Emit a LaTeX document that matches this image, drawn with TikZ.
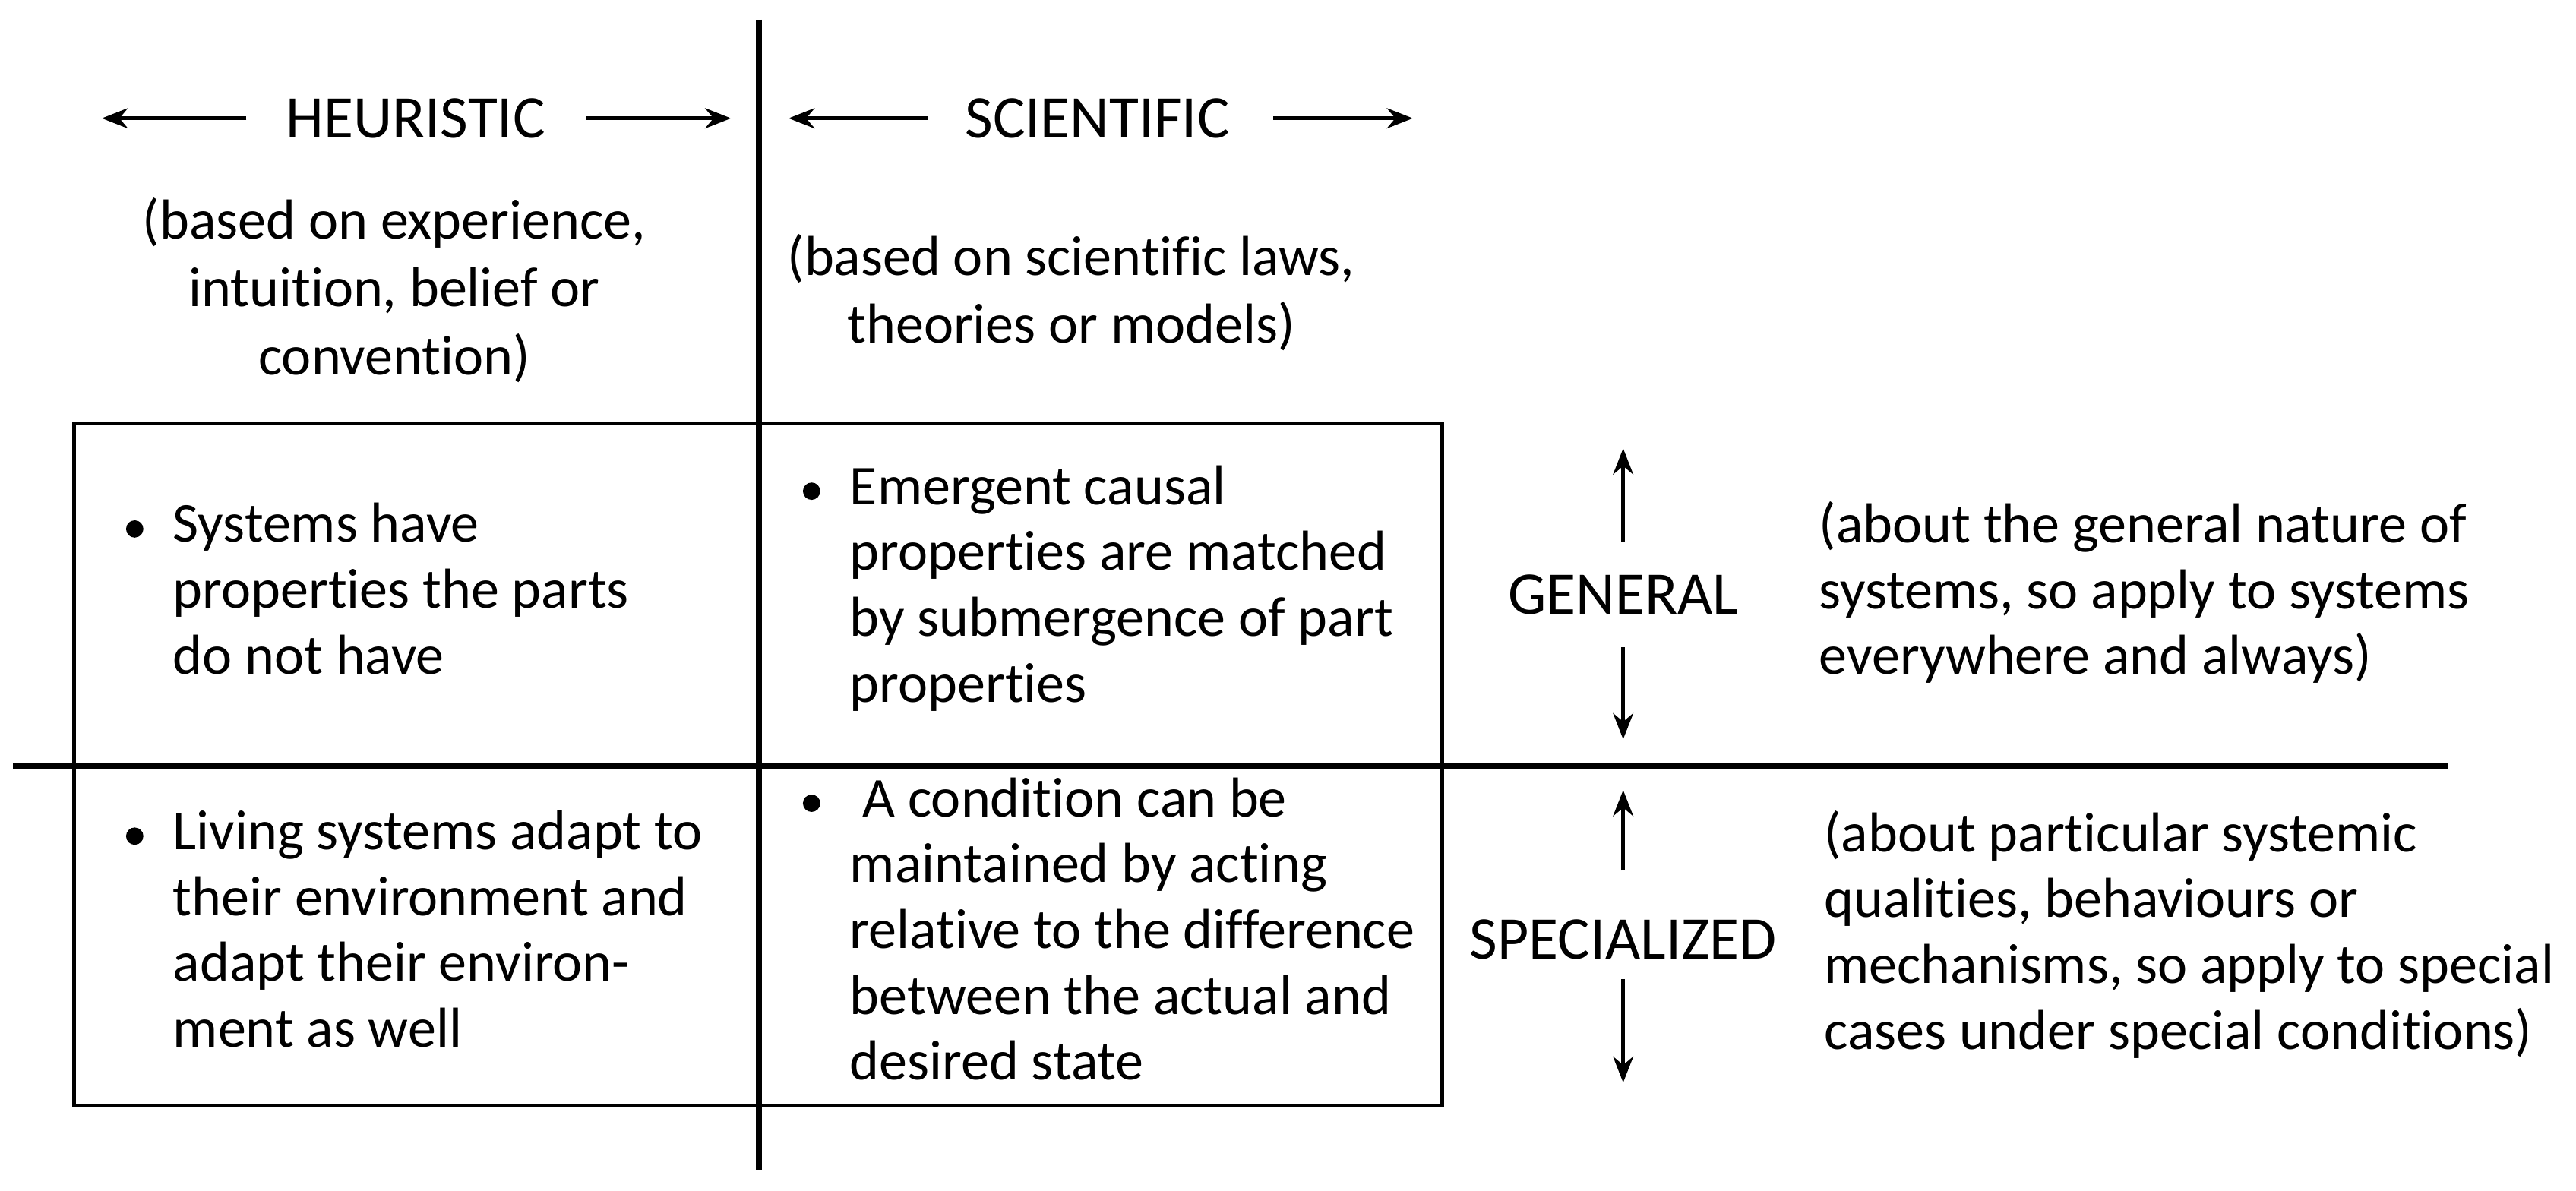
\documentclass[tikz,border=0pt]{standalone}
\usepackage{fontspec}
\setmainfont{Carlito}[Ligatures={NoCommon}]
\usetikzlibrary{arrows.meta}
\begin{document}
\begin{tikzpicture}[x=0.02cm,y=-0.02cm,
  txt/.style={anchor=north west,align=left,inner sep=0pt,font=\fontsize{19.5pt}{22.8pt}\selectfont},
  ctxt/.style={anchor=north,align=center,inner sep=0pt,font=\fontsize{19.5pt}{23.5pt}\selectfont},
  lbl/.style={inner sep=0pt,font=\fontsize{21pt}{24pt}\selectfont},
  arr/.style={-{Stealth[length=9pt,width=7pt]},line width=1.3pt},
  bul/.style={circle,fill,inner sep=0pt,minimum size=6pt}]
\useasboundingbox (0,0) rectangle (1568,724.6);
\draw[line width=2.2pt] (462,12) -- (462,712);
\draw[line width=2.2pt] (8,466) -- (1490,466);
\draw[line width=1.3pt] (45,258) rectangle (878,673);
% headings
\node[lbl] (heu) at (253,72) {HEURISTIC};
\coordinate (h1) at (62,72); \coordinate (h2) at (445,72);
\draw[arr] (150,72) -- (h1); \draw[arr] (357,72) -- (h2);
\node[lbl] (sci) at (668,72) {SCIENTIFIC};
\coordinate (s1) at (480,72); \coordinate (s2) at (860,72);
\draw[arr] (565,72) -- (s1); \draw[arr] (775,72) -- (s2);
\node[ctxt] (hd) at (240,120) {(based on experience,\\intuition, belief or\\convention)};
\node[ctxt] (sd) at (652,142) {(based on scientific laws,\\theories or models)};
% cells
\node[bul] (b1) at (82,322) {};
\node[txt] (c1) at (105,306) {Systems have\\properties the parts\\do not have};
\node[bul] (b2) at (494,299) {};
\node[txt] (c2) at (517,283) {Emergent causal\\properties are matched\\by submergence of part\\properties};
\node[bul] (b3) at (82,509) {};
\node[txt] (c3) at (105,493) {Living systems adapt to\\their environment and\\adapt their environ-\\ment as well};
\node[bul] (b4) at (494,489) {};
\node[txt] (c4) at (517,473) {\ A condition can be\\maintained by acting\\relative to the difference\\between the actual and\\desired state};
% right side
\node[lbl] (gen) at (988,362) {GENERAL};
\coordinate (g1) at (988,273); \coordinate (g2) at (988,450);
\draw[arr] (988,330) -- (g1); \draw[arr] (988,394) -- (g2);
\node[lbl] (spe) at (988,572) {SPECIALIZED};
\coordinate (p1) at (988,481); \coordinate (p2) at (988,659);
\draw[arr] (988,530) -- (p1); \draw[arr] (988,596) -- (p2);
\node[txt] (gd) at (1107,305) {(about the general nature of\\systems, so apply to systems\\everywhere and always)};
\node[txt] (sdd) at (1110,493) {(about particular systemic\\qualities, behaviours or\\mechanisms, so apply to special\\cases under special conditions)};
\end{tikzpicture}
\end{document}
